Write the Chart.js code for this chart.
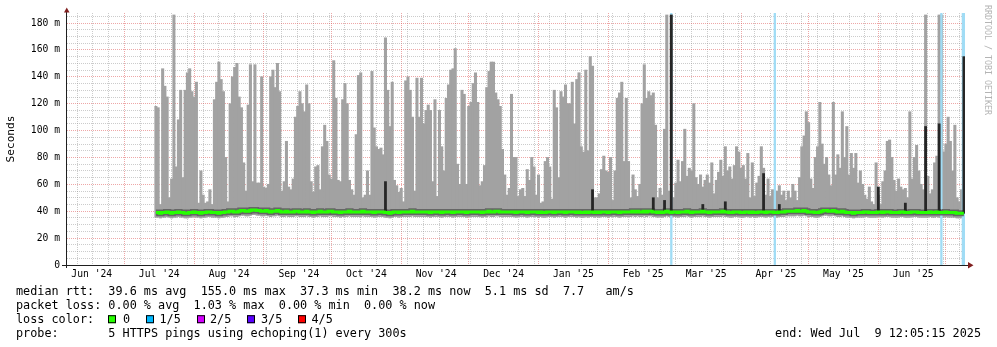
<!DOCTYPE html>
<html>
<head>
<meta charset="utf-8">
<title>smokeping rtt</title>
<script src="https://cdn.jsdelivr.net/npm/chart.js@4/dist/chart.umd.min.js"></script>
<style>
    html, body { margin: 0; padding: 0; background: #fff; }
    canvas { display: block; }
</style>
</head>
<body>
<canvas id="chart" width="997" height="347"></canvas>
<script>
// all x values are days counted from 1 Jul 2024 00:00
const xMin = -25.5;          // Jun 5 2024 12:05
const xMax = 373.5;          // Jul 9 2025 12:05
const yMax = 187.5;          // ms
const firstDay = 14;         // first day with data (Jul 14 2024)

// top of the smoke (slowest ping) per day, ms
const maxRtt = [
    118,117,45,146,133,125,50,64,186,73,108,130,65,130,143,146,129,125,136,46,70,52,46,47,56,45,123,136,151,138,
    129,80,47,120,140,147,150,125,117,76,55,119,149,62,149,61,61,140,58,57,60,140,145,132,150,129,55,62,92,58,
    56,64,110,118,129,120,114,134,120,62,54,73,74,56,88,104,92,67,64,152,124,63,62,123,135,120,63,56,52,97,
    141,143,50,52,70,52,144,102,88,86,87,82,169,130,103,136,63,59,54,57,47,137,140,130,110,55,139,110,139,105,
    115,119,115,62,123,51,115,88,70,124,134,145,146,161,75,60,130,127,60,118,121,135,143,121,59,62,74,132,144,151,
    151,128,123,118,86,67,52,57,127,80,80,51,56,57,51,71,63,80,73,52,67,46,47,77,80,73,49,130,117,65,
    129,125,134,120,120,136,105,138,143,88,84,145,85,155,148,50,50,53,71,81,70,69,80,48,70,124,128,136,77,124,
    77,50,67,56,51,60,120,149,124,129,126,128,104,50,57,52,101,186,55,186,50,61,78,62,77,101,66,72,70,120,
    65,60,67,58,63,67,61,76,53,63,69,78,66,88,70,73,64,74,88,84,72,74,64,83,50,76,51,61,66,88,
    72,52,64,51,56,55,55,59,52,55,48,55,50,60,55,48,65,88,96,114,106,64,57,80,88,121,90,75,80,67,
    59,121,67,82,72,114,80,103,67,83,72,83,61,70,60,52,49,58,47,45,76,52,45,62,70,92,93,80,63,55,
    64,58,56,57,50,114,64,80,89,70,60,56,186,66,53,56,76,81,186,186,84,90,110,92,70,104,50,47,56,170
];

// bottom of the smoke (fastest ping) per day, ms
const loRtt = [
    35.5,35.5,35,35.5,35.5,36,35.5,35,35.5,35.5,36,35.5,35.5,35,35,35.5,35.5,36,35.5,35.5,35,35.5,35.5,36,36,35.5,35.5,35.5,35,35.5,
    35.5,36,36,36.5,36.5,36,36,36.5,37,37,36.5,36.5,37,37.5,37.5,37,37,36.5,36.5,37,36.5,36,36.5,36.5,37,36.5,36,36,36.5,36,
    36,36,36.5,36.5,36,36,36,36.5,36,36,35.5,36,36,36.5,36,36,36,36.5,36.5,36,36,36,35.5,36,36,36,36.5,36,36,36,
    36,36,36.5,36,36,36,36,35.5,36,36,36,36,35.5,35.5,35,35.5,36,36,35.5,36,36,36,36,36,36.5,36,36,36,36,36,
    36,36,35.5,36,36,36,36,35.5,36,36,36,36,35.5,36,36,36,36,36,35.5,36,36,36,36,36,36,35.5,36,36,36.5,36,
    36,36.5,36.5,36,36,36,36,36,36,36,35.5,36,36,36,36,35.5,36,36,36,36,35.5,36,35.5,35.5,36,36,36,35.5,36,36,
    36,36,35.5,36,36,36,36,35.5,36,35.5,35.5,36,35.5,36,36,35.5,36,35.5,36,36,36,35.5,36,36,36,36,35.5,36,36,36,
    36,36,36.5,36,36.5,36,36,36.5,36,36.5,36.5,36,36,35.5,36,35.5,36,36.5,36,35.5,36,36,35.5,36,36,36,36.5,36,35.5,36,
    36,36,36,36.5,36,36,35.5,36,36,36,36,36,36.5,36,36,35.5,35.5,36,36,36,35.5,35.5,36,36,35.5,36,35.5,35.5,36,36,
    36,35.5,36,36,36,35.5,35.5,36,36,36,36.5,36.5,36.5,36.5,36.5,37,36.5,36.5,37,36.5,36,36,36,35.5,35.5,36,36.5,37,37,36.5,
    36.5,37,36.5,36,36,36.5,36,35.5,35.5,35.5,35,35.5,35.5,35.5,35.5,36,36,35.5,35.5,35.5,35.5,36,36,35.5,36,36,36,35.5,35.5,35.5,
    35.5,36,36,35.5,35.5,35.5,36,36,36,35.5,35.5,35.5,35.5,35.5,36,35.5,35.5,36,35.5,35.5,35.5,36,35.5,35.5,35.5,35.5,35,35,35,35
];

// median rtt per day, ms
const medianRtt = [
    39,39,38.5,39,39,39.5,39,38.5,39,39,39.5,39,39,38.5,38.5,39,39,39.5,39,39,38.5,39,39,39.5,39.5,39,39,39,38.5,39,
    39,39.5,39.5,40,40,39.5,39.5,40,40.5,40.5,40,40,40.5,41,41,40.5,40.5,40,40,40.5,40,39.5,40,40,40.5,40,39.5,39.5,40,39.5,
    39.5,39.5,40,40,39.5,39.5,39.5,40,39.5,39.5,39,39.5,39.5,40,39.5,39.5,39.5,40,40,39.5,39.5,39.5,39,39.5,39.5,39.5,40,39.5,39.5,39.5,
    39.5,39.5,40,39.5,39.5,39.5,39.5,39,39.5,39.5,39.5,39.5,39,39,38.5,39,39.5,39.5,39,39.5,39.5,39.5,39.5,39.5,40,39.5,39.5,39.5,39.5,39.5,
    39.5,39.5,39,39.5,39.5,39.5,39.5,39,39.5,39.5,39.5,39.5,39,39.5,39.5,39.5,39.5,39.5,39,39.5,39.5,39.5,39.5,39.5,39.5,39,39.5,39.5,40,39.5,
    39.5,40,40,39.5,39.5,39.5,39.5,39.5,39.5,39.5,39,39.5,39.5,39.5,39.5,39,39.5,39.5,39.5,39.5,39,39.5,39,39,39.5,39.5,39.5,39,39.5,39.5,
    39.5,39.5,39,39.5,39.5,39.5,39.5,39,39.5,39,39,39.5,39,39.5,39.5,39,39.5,39,39.5,39.5,39.5,39,39.5,39.5,39.5,39.5,39,39.5,39.5,39.5,
    39.5,39.5,40,39.5,40,39.5,39.5,40,39.5,40,40,39.5,39.5,39,39.5,39,39.5,40,39.5,39,39.5,39.5,39,39.5,39.5,39.5,40,39.5,39,39.5,
    39.5,39.5,39.5,40,39.5,39.5,39,39.5,39.5,39.5,39.5,39.5,40,39.5,39.5,39,39,39.5,39.5,39.5,39,39,39.5,39.5,39,39.5,39,39,39.5,39.5,
    39.5,39,39.5,39.5,39.5,39,39,39.5,39.5,39.5,40,40,40,40,40,40.5,40,40,40.5,40,39.5,39.5,39.5,39,39,39.5,40,40.5,40.5,40,
    40,40.5,40,39.5,39.5,40,39.5,39,39,39,38.5,39,39,39,39,39.5,39.5,39,39,39,39,39.5,39.5,39,39.5,39.5,39.5,39,39,39,
    39,39.5,39.5,39,39,39,39.5,39.5,39.5,39,39,39,39,39,39.5,39,39,39.5,39,39,39,39.5,39,39,39,39,38.5,38.5,38.5,38.5
];

// days where the median jumps up (dark spikes) and how high
const spikeDays = [116, 208, 235, 240, 243, 257, 267, 284, 291, 335, 347, 356, 362, 373];
const spikeTops = [62, 56, 50, 48, 186, 45, 47, 68, 45, 58, 46, 103, 105, 155];

// days with 1/5 packet loss
const lossDays = [243, 289, 363];
const lossWideDays = [373];

const monthStarts = [-30, 0, 31, 62, 92, 123, 153, 184, 215, 243, 274, 304, 335, 365];
const monthLabels = ["Jun '24", "Jul '24", "Aug '24", "Sep '24", "Oct '24", "Nov '24", "Dec '24",
    "Jan '25", "Feb '25", "Mar '25", "Apr '25", "May '25", "Jun '25", "Jul '25"];

const lossColors = ['#26ff00', '#00b8ff', '#d400ff', '#5a00ff', '#ff0000'];
const lossNames = ['0', '1/5', '2/5', '3/5', '4/5'];

const MONO = "'DejaVu Sans Mono', monospace";
const MAJOR = 'rgba(222,79,79,0.5)';
const MINOR = 'rgba(143,143,143,0.45)';
const DAY_PX = 898 / (xMax - xMin);   // plot is 898 px wide

const smoke = maxRtt.map((v, i) => ({ x: firstDay + i, y: [loRtt[i], v] }));
const median = medianRtt.map((v, i) => ({ x: firstDay + i, y: v }));
const spikes = spikeDays.map((d, i) => ({ x: d, y: [medianRtt[d - firstDay], spikeTops[i]] }));
const loss = lossDays.map(d => ({ x: d, y: [0, yMax] }));
const lossWide = lossWideDays.map(d => ({ x: d, y: [0, yMax] }));

// rrdtool style decorations: axes, arrows, legend, watermark
const decor = {
    id: 'decor',
    afterDraw(chart) {
        const ctx = chart.ctx;
        const a = chart.chartArea;
        ctx.save();

        ctx.strokeStyle = '#1f1f1f';
        ctx.lineWidth = 1;
        ctx.beginPath();
        ctx.moveTo(a.left - 0.5, a.bottom + 3);
        ctx.lineTo(a.left - 0.5, a.top - 1);
        ctx.moveTo(a.left - 5, a.bottom + 0.5);
        ctx.lineTo(a.right + 4, a.bottom + 0.5);
        ctx.stroke();

        ctx.fillStyle = '#801f1f';
        ctx.beginPath();
        ctx.moveTo(a.left - 3, a.top - 0.5);
        ctx.lineTo(a.left + 2.5, a.top - 0.5);
        ctx.lineTo(a.left - 0.25, a.top - 5.5);
        ctx.closePath();
        ctx.fill();
        ctx.beginPath();
        ctx.moveTo(a.right + 3, a.bottom - 3);
        ctx.lineTo(a.right + 3, a.bottom + 3.5);
        ctx.lineTo(a.right + 8.5, a.bottom + 0.25);
        ctx.closePath();
        ctx.fill();

        // legend
        ctx.fillStyle = '#000';
        ctx.font = '11.8px ' + MONO;
        ctx.textBaseline = 'alphabetic';
        ctx.textAlign = 'left';
        const base = 294.7;
        ctx.fillText('median rtt:  39.6 ms avg  155.0 ms max  37.3 ms min  38.2 ms now  5.1 ms sd  7.7   am/s', 16, base);
        ctx.fillText('packet loss: 0.00 % avg  1.03 % max  0.00 % min  0.00 % now', 16, base + 14);
        ctx.fillText('loss color:', 16, base + 28);
        ctx.fillText('probe:       5 HTTPS pings using echoping(1) every 300s', 16, base + 42);
        const boxX = [108, 146, 197, 247, 298];
        const textX = [123, 159.5, 210, 261, 311.5];
        lossColors.forEach((c, i) => {
            ctx.fillStyle = c;
            ctx.fillRect(boxX[i], base + 20.5, 8, 8);
            ctx.strokeStyle = '#000';
            ctx.strokeRect(boxX[i] + 0.5, base + 21, 7, 7);
            ctx.fillStyle = '#000';
            ctx.fillText(lossNames[i], textX[i], base + 28);
        });
        ctx.textAlign = 'right';
        ctx.fillText('end: Wed Jul  9 12:05:15 2025', 981, base + 42);

        // watermark
        ctx.translate(987.5, 5);
        ctx.rotate(Math.PI / 2);
        ctx.font = '8.3px ' + MONO;
        ctx.textAlign = 'left';
        ctx.textBaseline = 'middle';
        ctx.fillStyle = '#b4b4b4';
        ctx.fillText('RRDTOOL / TOBI OETIKER', 0, 0);
        ctx.restore();
    }
};

Chart.defaults.font.family = MONO;
Chart.defaults.color = '#000';

new Chart(document.getElementById('chart').getContext('2d'), {
    type: 'bar',
    data: {
        datasets: [
            { type: 'line', data: median, stepped: 'middle', borderColor: '#26ff00', borderWidth: 3,
              pointRadius: 0, borderCapStyle: 'butt', order: 1 },
            { type: 'bar', data: spikes, backgroundColor: '#262626', barThickness: 2, order: 2 },
            { type: 'line', data: median, stepped: 'middle', borderColor: '#666666', borderWidth: 6,
              pointRadius: 0, borderCapStyle: 'butt', order: 3 },
            { type: 'bar', data: loss, backgroundColor: 'rgb(160,220,245)', barThickness: 1.5, order: 4 },
            { type: 'bar', data: lossWide, backgroundColor: 'rgb(160,220,245)', barThickness: 3.5, order: 4 },
            // one bar per day, exactly a day wide, so the smoke is one solid band
            { type: 'bar', data: smoke, backgroundColor: '#a2a2a2', barThickness: DAY_PX, order: 5 }
        ]
    },
    options: {
        responsive: false,
        animation: false,
        events: [],
        layout: { padding: { top: 13, right: 32, bottom: 0, left: 0 } },
        datasets: {
            bar: { grouped: false, barPercentage: 1, categoryPercentage: 1, borderWidth: 0, inflateAmount: 0.4 }
        },
        plugins: { legend: { display: false }, tooltip: { enabled: false } },
        scales: {
            x: {
                type: 'linear',
                min: xMin,
                max: xMax,
                offset: false,
                afterBuildTicks: scale => {
                    const ticks = [];
                    for (let d = -21; d <= xMax; d += 7) {
                        if (!monthStarts.includes(d)) ticks.push({ value: d, kind: 'week' });
                    }
                    monthStarts.forEach((d, i) => {
                        if (d >= xMin && d <= xMax) ticks.push({ value: d, kind: 'month' });
                        const mid = d + 15.5;
                        if (mid >= xMin && mid <= xMax) ticks.push({ value: mid, kind: 'label', text: monthLabels[i] });
                    });
                    ticks.sort((p, q) => p.value - q.value);
                    scale.ticks = ticks;
                },
                afterFit: scale => { scale.height = 82; },
                grid: {
                    offset: false,
                    drawTicks: false,
                    lineWidth: c => (c.tick && c.tick.kind === 'label') ? 0 : 1,
                    color: c => {
                        if (!c.tick || c.tick.kind === 'label') return 'rgba(0,0,0,0)';
                        return c.tick.kind === 'month' ? MAJOR : MINOR;
                    }
                },
                border: { display: false, dash: [1, 1] },
                ticks: {
                    autoSkip: false,
                    maxRotation: 0,
                    padding: 4,
                    font: { size: 9.7 },
                    callback: (v, i, ticks) => ticks[i].kind === 'label' ? ticks[i].text : ''
                }
            },
            y: {
                min: 0,
                max: yMax,
                afterBuildTicks: scale => {
                    const ticks = [];
                    for (let v = 0; v < yMax; v += 5) ticks.push({ value: v });
                    scale.ticks = ticks;
                },
                afterFit: scale => { scale.width = 67; },
                grid: {
                    drawTicks: false,
                    color: c => (c.tick && c.tick.value % 20 === 0) ? MAJOR : MINOR
                },
                border: { display: false, dash: [1, 1] },
                ticks: {
                    autoSkip: false,
                    padding: 7,
                    font: { size: 9.7 },
                    callback: v => v % 20 !== 0 ? '' : (v === 0 ? '0' : v + ' m')
                },
                title: {
                    display: true,
                    text: 'Seconds',
                    font: { size: 11.1 },
                    padding: { top: 4, bottom: 0 }
                }
            }
        }
    },
    plugins: [decor]
});
</script>
</body>
</html>
